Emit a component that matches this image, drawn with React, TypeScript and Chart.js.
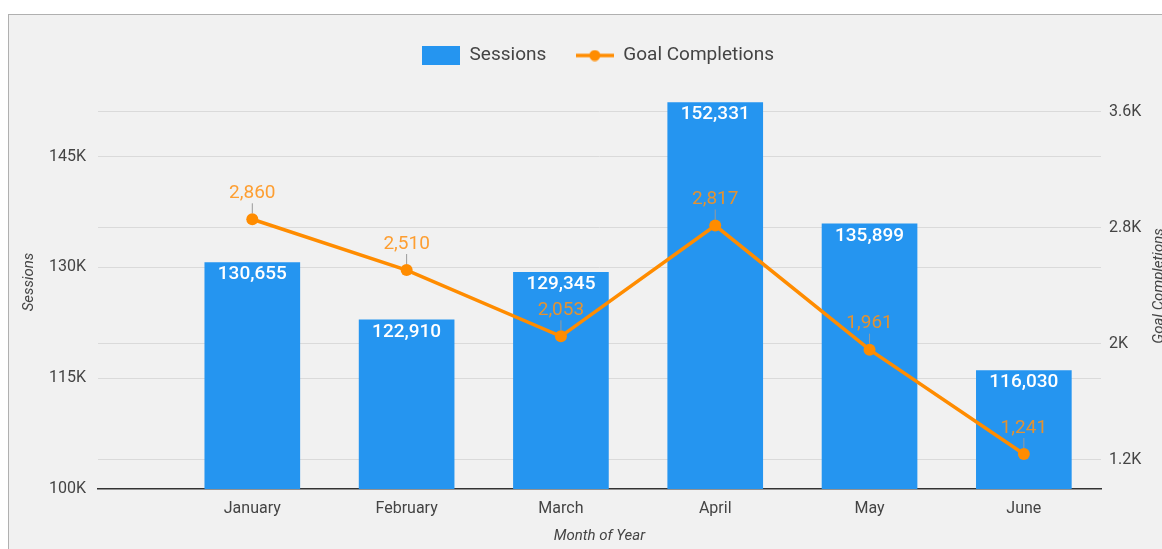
import React, { useEffect, useRef } from "react";
import { Chart, registerables } from "chart.js";

Chart.register(...registerables);

const months = ["January", "February", "March", "April", "May", "June"];
const sessions = [130655, 122910, 129345, 152331, 135899, 116030];
const goalCompletions = [2860, 2510, 2053, 2817, 1961, 1241];
const sessionTicks = [100000, 115000, 130000, 145000];
const goalTicks = [1200, 2000, 2800, 3600];

const BAR_COLOR = "#2595f0";
const LINE_COLOR = "#ff8c00";
const LABEL_ORANGE = "rgba(255,146,22,0.88)";
const TEXT_COLOR = "#444444";
const GRID_COLOR = "#dadada";

const fmt = (v: number) => v.toLocaleString("en-US");
const fmtK = (v: number) => {
  const k = v / 1000;
  return (Number.isInteger(k) ? String(k) : k.toFixed(1)) + "K";
};

function makeBarIcon() {
  const c = document.createElement("canvas");
  c.width = 38;
  c.height = 19;
  const x = c.getContext("2d")!;
  x.fillStyle = BAR_COLOR;
  x.fillRect(0, 0, 38, 19);
  return c;
}

function makeLineIcon() {
  const c = document.createElement("canvas");
  c.width = 38;
  c.height = 12;
  const x = c.getContext("2d")!;
  x.strokeStyle = LINE_COLOR;
  x.lineWidth = 3.5;
  x.beginPath();
  x.moveTo(0, 6);
  x.lineTo(38, 6);
  x.stroke();
  x.fillStyle = LINE_COLOR;
  x.beginPath();
  x.arc(19, 6, 5.5, 0, Math.PI * 2);
  x.fill();
  return c;
}

const valueLabels = {
  id: "valueLabels",
  afterDatasetsDraw(chart: any) {
    const ctx = chart.ctx;
    ctx.save();
    ctx.textAlign = "center";
    ctx.textBaseline = "middle";
    const barMeta = chart.getDatasetMeta(0);
    ctx.font = "500 19px Roboto";
    ctx.fillStyle = "#ffffff";
    barMeta.data.forEach((el: any, i: number) => {
      ctx.fillText(fmt(sessions[i]), el.x, el.y + 12);
    });
    const lineMeta = chart.getDatasetMeta(1);
    lineMeta.data.forEach((el: any, i: number) => {
      ctx.strokeStyle = "#9a9a9a";
      ctx.lineWidth = 1;
      ctx.beginPath();
      ctx.moveTo(el.x, el.y - 16);
      ctx.lineTo(el.x, el.y - 6);
      ctx.stroke();
      ctx.font = "19px Roboto";
      ctx.fillStyle = LABEL_ORANGE;
      ctx.fillText(fmt(goalCompletions[i]), el.x, el.y - 26);
    });
    ctx.restore();
  },
};

const rightTitle = {
  id: "rightTitle",
  afterDraw(chart: any) {
    const ctx = chart.ctx;
    const area = chart.chartArea;
    ctx.save();
    ctx.translate(1159.5, (area.top + area.bottom) / 2 + 4);
    ctx.rotate(-Math.PI / 2);
    ctx.textAlign = "center";
    ctx.textBaseline = "middle";
    ctx.font = "italic 15px Roboto";
    ctx.fillStyle = TEXT_COLOR;
    ctx.fillText("Goal Completions", 0, 0);
    ctx.restore();
  },
};

export default function App() {
  const ref = useRef<HTMLCanvasElement>(null);

  useEffect(() => {
    if (!ref.current) return;
    Chart.defaults.font.family = "Roboto";
    const barIcon = makeBarIcon();
    const lineIcon = makeLineIcon();

    const chart = new Chart(ref.current, {
      type: "bar",
      data: {
        datasets: [
          {
            type: "bar",
            label: "Sessions",
            data: sessions.map((v, i) => ({ x: i, y: v })),
            backgroundColor: BAR_COLOR,
            barThickness: 95,
            yAxisID: "y",
            order: 1,
          } as any,
          {
            type: "line",
            label: "Goal Completions",
            data: goalCompletions.map((v, i) => ({ x: i, y: v })),
            borderColor: LINE_COLOR,
            backgroundColor: LINE_COLOR,
            borderWidth: 3.5,
            pointRadius: 6,
            pointBackgroundColor: LINE_COLOR,
            pointBorderWidth: 0,
            tension: 0,
            yAxisID: "y1",
            order: 0,
          } as any,
        ],
      },
      options: {
        animation: false,
        responsive: false,
        maintainAspectRatio: false,
        layout: { padding: { top: 16.5, left: 0, right: 0, bottom: 0 } },
        plugins: {
          tooltip: { enabled: false },
          legend: {
            position: "top",
            align: "center",
            labels: {
              usePointStyle: true,
              pointStyleWidth: 38,
              boxWidth: 38,
              boxHeight: 19,
              padding: 29.5,
              font: { size: 19, family: "Roboto" },
              color: TEXT_COLOR,
              generateLabels: () => [
                {
                  text: "Sessions",
                  pointStyle: barIcon,
                  fillStyle: BAR_COLOR,
                  strokeStyle: BAR_COLOR,
                  lineWidth: 0,
                  hidden: false,
                  datasetIndex: 0,
                  fontColor: TEXT_COLOR,
                },
                {
                  text: "Goal Completions",
                  pointStyle: lineIcon,
                  fillStyle: LINE_COLOR,
                  strokeStyle: LINE_COLOR,
                  lineWidth: 0,
                  hidden: false,
                  datasetIndex: 1,
                  fontColor: TEXT_COLOR,
                },
              ] as any,
            },
          },
        },
        scales: {
          x: {
            type: "linear",
            min: -1,
            max: 5.5,
            offset: false,
            afterBuildTicks: (axis: any) => {
              axis.ticks = months.map((_, i) => ({ value: i }));
            },
            afterFit: (axis: any) => {
              axis.height = 60;
            },
            ticks: {
              callback: (v: any) => months[v as number] ?? "",
              color: TEXT_COLOR,
              font: { size: 16 },
              padding: 10,
              maxRotation: 0,
              autoSkip: false,
            },
            grid: { display: false, drawTicks: false, offset: false },
            border: { display: true, color: "#333333", width: 1.5 },
            title: {
              display: true,
              text: "Month of Year",
              color: TEXT_COLOR,
              font: { size: 15, style: "italic" },
              padding: { top: 0, bottom: 3.5 },
            },
          },
          y: {
            type: "linear",
            position: "left",
            min: 100000,
            max: 156060,
            afterBuildTicks: (axis: any) => {
              axis.ticks = sessionTicks.map((v) => ({ value: v }));
            },
            afterFit: (axis: any) => {
              axis.width = 98;
            },
            ticks: {
              callback: (v: any) => fmtK(v as number),
              color: TEXT_COLOR,
              font: { size: 16 },
              padding: 12,
            },
            grid: {
              drawTicks: false,
              color: (c: any) => (c.tick && c.tick.value === 100000 ? "rgba(0,0,0,0)" : GRID_COLOR),
              lineWidth: 1,
            },
            border: { display: false },
            title: {
              display: true,
              text: "Sessions",
              color: TEXT_COLOR,
              font: { size: 15, style: "italic" },
              padding: { top: 20, bottom: 0 },
            },
          },
          y1: {
            type: "linear",
            position: "right",
            min: 1000,
            max: 3855,
            afterBuildTicks: (axis: any) => {
              axis.ticks = goalTicks.map((v) => ({ value: v }));
            },
            afterFit: (axis: any) => {
              axis.width = 95;
            },
            ticks: {
              callback: (v: any) => fmtK(v as number),
              color: TEXT_COLOR,
              font: { size: 16 },
              padding: 8,
            },
            grid: { drawTicks: false, color: GRID_COLOR, lineWidth: 1 },
            border: { display: false },
            title: { display: false },
          },
        },
      } as any,
      plugins: [valueLabels, rightTitle],
    });
    return () => chart.destroy();
  }, []);

  return (
    <div
      style={{
        position: "fixed",
        left: 0,
        top: 0,
        width: 1162,
        height: 549,
        overflow: "hidden",
        background: "#ffffff",
      }}
    >
      <div
        style={{
          position: "absolute",
          left: 8,
          top: 14,
          width: 1200,
          height: 600,
          background: "#f1f1f1",
          borderTop: "1.5px solid #b0b0b0",
          borderLeft: "1.5px solid #b0b0b0",
          boxSizing: "border-box",
        }}
      />
      <canvas
        ref={ref}
        width={1196}
        height={549}
        style={{ position: "absolute", left: 0, top: 0, width: 1196, height: 549 }}
      />
    </div>
  );
}
